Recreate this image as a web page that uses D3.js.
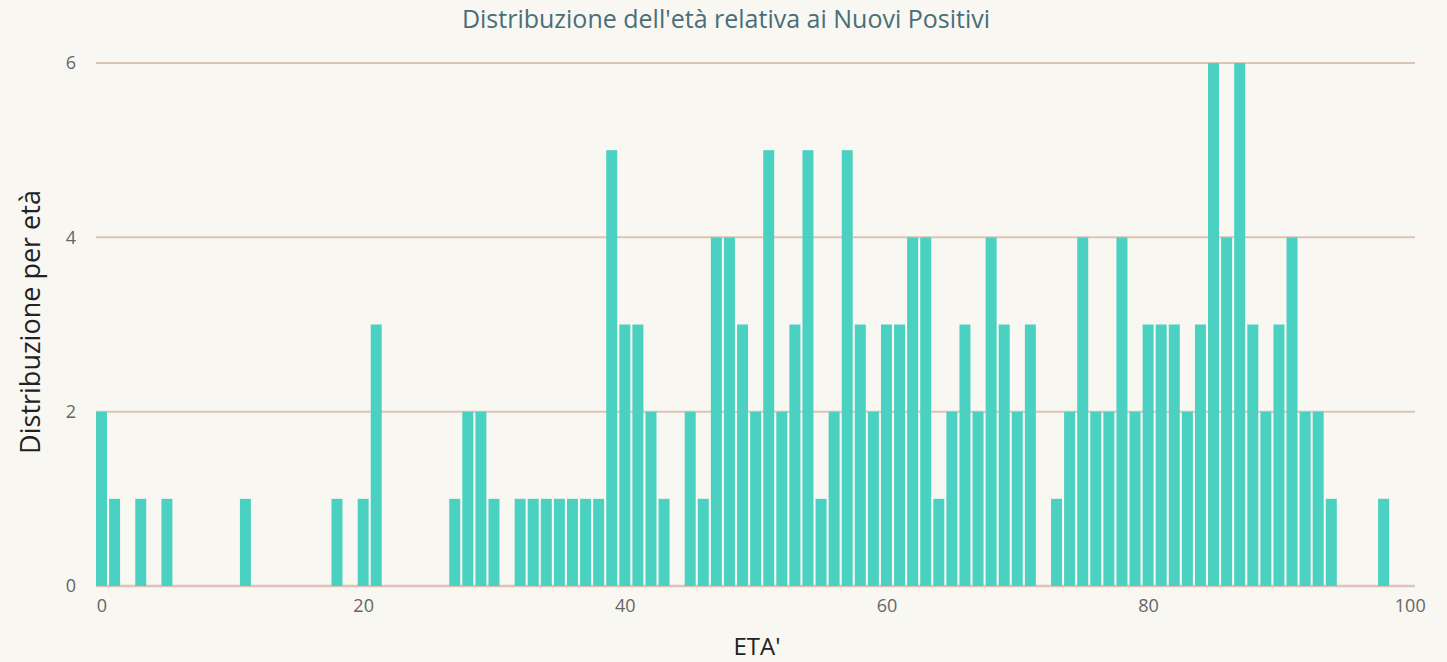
<!DOCTYPE html>
<html>
<head>
<meta charset="utf-8">
<script src="https://cdn.jsdelivr.net/npm/d3@7"></script>
<style>
  html, body { margin: 0; padding: 0; background: #f8f7f2; }
  svg { display: block; font-family: "Open Sans", "Noto Sans", sans-serif; }
</style>
</head>
<body>
<svg id="chart" width="1447" height="662"></svg>
<script>
// ages and counts of new positives per age
var ages   = [0, 1, 3, 5, 11, 18, 20, 21, 27, 28, 29, 30, 32, 33, 34, 35, 36, 37, 38, 39,
              40, 41, 42, 43, 45, 46, 47, 48, 49, 50, 51, 52, 53, 54, 55, 56, 57, 58, 59,
              60, 61, 62, 63, 64, 65, 66, 67, 68, 69, 70, 71, 73, 74, 75, 76, 77, 78, 79,
              80, 81, 82, 83, 84, 85, 86, 87, 88, 89, 90, 91, 92, 93, 94, 98];
var counts = [2, 1, 1, 1, 1, 1, 1, 3, 1, 2, 2, 1, 1, 1, 1, 1, 1, 1, 1, 5,
              3, 3, 2, 1, 2, 1, 4, 4, 3, 2, 5, 2, 3, 5, 1, 2, 5, 3, 2,
              3, 3, 4, 4, 1, 2, 3, 2, 4, 3, 2, 3, 1, 2, 4, 2, 2, 4, 2,
              3, 3, 3, 2, 3, 6, 4, 6, 3, 2, 3, 4, 2, 2, 1, 1];
var xTicks = [0, 20, 40, 60, 80, 100];
var yTicks = [0, 2, 4, 6];

var title = "Distribuzione dell'età relativa ai Nuovi Positivi";
var xTitle = "ETA'";
var yTitle = "Distribuzione per età";

var svg = d3.select("#chart");
var pl = 96, pr = 1415, pt = 63, pb = 586;

var x = d3.scaleLinear().domain([-0.42, 100.4]).range([pl, pr]);
var y = d3.scaleLinear().domain([0, 6]).range([pb, pt]);
var bw = (x(1) - x(0)) * 0.84;

// gridlines
svg.append("g").selectAll("line")
    .data(yTicks)
    .enter().append("line")
    .attr("x1", pl).attr("x2", pr)
    .attr("y1", function(d){ return y(d); })
    .attr("y2", function(d){ return y(d); })
    .style("stroke", "#dcc4b6")
    .style("stroke-width", function(d){ return d == 0 ? "2.5px" : "2px"; });

// bars
var data = ages.map(function(a, i){ return {age: a, n: counts[i]}; });
svg.append("g").selectAll("rect")
    .data(data)
    .enter().append("rect")
    .attr("x", function(d){ return x(d.age) - bw / 2; })
    .attr("width", bw)
    .attr("y", function(d){ return y(d.n); })
    .attr("height", function(d){ return y(0) - y(d.n); })
    .style("fill", "#4bd1c1");

// x axis labels
var xa = svg.append("g")
    .attr("transform", "translate(0," + (pb + 5) + ")")
    .call(d3.axisBottom(x).tickValues(xTicks).tickSize(0).tickPadding(8))
    .attr("font-family", null).attr("font-size", null);
xa.select(".domain").remove();
xa.selectAll("text").style("font-size", "18px").style("fill", "#666");

// y axis labels
var ya = svg.append("g")
    .attr("transform", "translate(76,0)")
    .call(d3.axisLeft(y).tickValues(yTicks).tickFormat(d3.format("d")).tickSize(0).tickPadding(0))
    .attr("font-family", null).attr("font-size", null);
ya.select(".domain").remove();
ya.selectAll("text").style("font-size", "18px").style("fill", "#666");

// titles
svg.append("text")
    .attr("x", 726).attr("y", 28)
    .attr("text-anchor", "middle")
    .style("font-size", "25px")
    .style("fill", "#4a6e78")
    .text(title);

svg.append("text")
    .attr("x", 757).attr("y", 655)
    .attr("text-anchor", "middle")
    .style("font-size", "24px")
    .style("fill", "#222")
    .text(xTitle);

svg.append("text")
    .attr("transform", "translate(40,322) rotate(-90)")
    .attr("text-anchor", "middle")
    .style("font-size", "27px")
    .style("fill", "#222")
    .text(yTitle);
</script>
</body>
</html>
